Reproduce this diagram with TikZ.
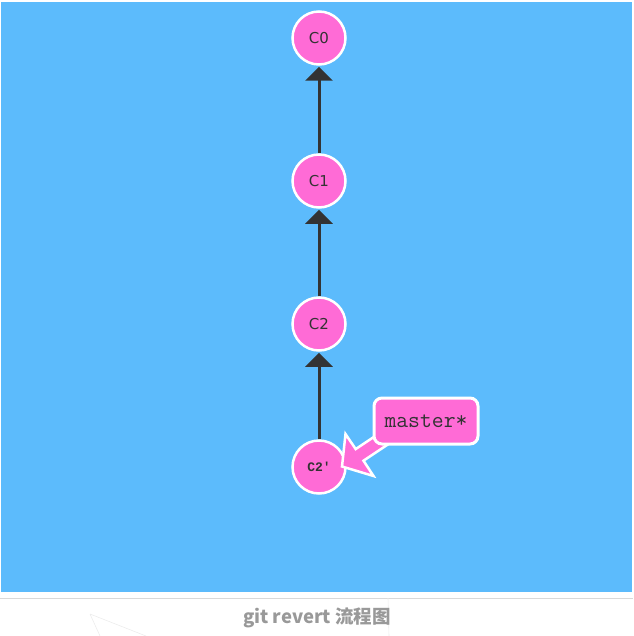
\documentclass[tikz,border=0pt]{standalone}
\usepackage{fontspec}
\setmainfont{DejaVu Sans}
\newfontfamily\monofnt{Liberation Mono}
\newfontfamily\cjkfnt{Noto Sans CJK SC}
\usetikzlibrary{arrows.meta}
\definecolor{bgblue}{HTML}{5CBBFC}
\definecolor{cpink}{HTML}{FF6BD6}
\definecolor{dark}{HTML}{333333}
\definecolor{capgray}{HTML}{999999}
\tikzset{
  commit/.style={circle, fill=cpink, draw=white, line width=2.5pt, minimum size=53pt, inner sep=0pt, text=dark, font=\fontsize{15}{15}\selectfont},
  parentlink/.style={draw=dark, line width=3pt, -{Triangle[width=27pt,length=14pt]}, shorten >=1pt},
  branchbox/.style={rounded corners=8pt, fill=cpink, draw=white, line width=3pt, minimum width=104pt, minimum height=46pt, text=dark, font=\ttfamily\fontsize{23}{23}\selectfont},
}
\begin{document}
\begin{tikzpicture}[x=1pt,y=-1pt]
\useasboundingbox (0,0) rectangle (633,636);
\fill[bgblue] (1,2) rectangle (632,592);
\draw[gray!30, line width=1pt] (0,598) -- (633,598);
\draw[gray!15, line width=0.6pt] (90,614) -- (146,636) (90,614) -- (100,636) (388,598) -- (389,636);
\node[commit] (c0) at (319,38) {C0};
\node[commit] (c1) at (319,181) {C1};
\node[commit] (c2) at (319,324) {C2};
\node[commit, font=\monofnt\bfseries\fontsize{13}{13}\selectfont] (c2p) at (319,467) {C2'};
\draw[parentlink] (c1) -- (c0);
\draw[parentlink] (c2) -- (c1);
\draw[parentlink] (c2p) -- (c2);
% fat arrow from branch label to C2'
\filldraw[fill=cpink, draw=white, line width=2.5pt, line join=miter]
  (396.8,438.5) -- (363.5,460.7) -- (373.5,476) -- (342,466.5) -- (345.5,434) -- (355.7,449.1) -- (389.0,426.9) -- cycle;
\node[branchbox] (master) at (426,421) {master*};
\node[text=capgray, font=\cjkfnt\bfseries\fontsize{18.5}{18.5}\selectfont] (cap) at (317,618) {git revert 流程图};
\end{tikzpicture}
\end{document}
